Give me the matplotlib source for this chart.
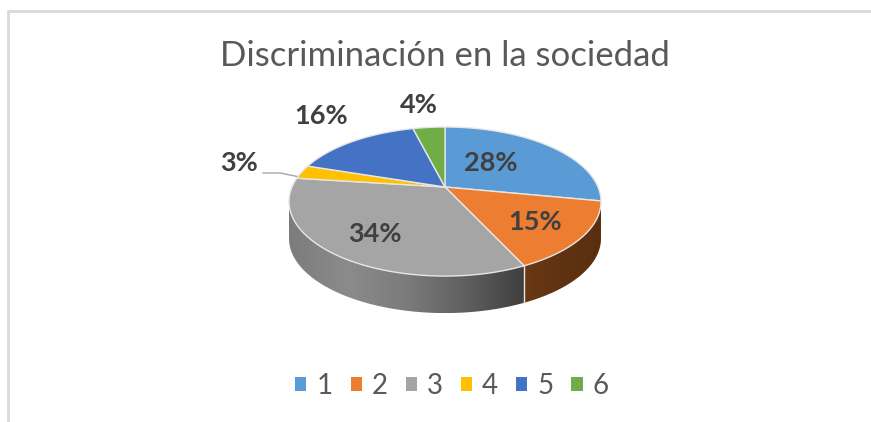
import numpy as np
import matplotlib
matplotlib.use('Agg')
import matplotlib.pyplot as plt
from matplotlib.colors import LinearSegmentedColormap
from matplotlib.patches import Patch, Polygon

plt.rcParams['font.family'] = ['Lato', 'DejaVu Sans']

# data
categories = ['1', '2', '3', '4', '5', '6']
values = [28, 15, 34, 3, 16, 4]
colors = ['#5b9bd5', '#ed7d31', '#a5a5a5', '#ffc000', '#4472c4', '#70ad47']
title = 'Discriminación en la sociedad'

# pie geometry in pixels (perspective view of a circle)
cx, cy = 445, 187
gx, gy, persp = 153, 71.7, 0.195
depth = 37
vis_from, vis_to = 101, 259  # part of the rim that shows the wall


def rim(t0, t1, dy=0):
    t = np.radians(np.linspace(t0, t1, 120))
    u, v = np.sin(t), np.cos(t)
    d = 1 + persp * v
    return np.column_stack([cx + gx * u / d, cy - gy * v / d + dy])


fig = plt.figure(figsize=(8.71, 4.22), dpi=100)
ax = fig.add_axes([0, 0, 1, 1])
ax.set_xlim(0, 871)
ax.set_ylim(422, 0)
ax.axis('off')

# frame of the chart, only top and left are in the crop
ax.plot([7.5, 7.5, 871], [422, 10.5, 10.5], color='#d9d9d9', lw=2, solid_joinstyle='miter')

ends = np.cumsum(values) / sum(values) * 360
starts = np.r_[0, ends[:-1]]

# side wall
wall_maps = {
    1: LinearSegmentedColormap.from_list('w2', ['#6a3814', '#5f3211', '#5a2f10']),
    2: LinearSegmentedColormap.from_list('w3', ['#7c7c7c', '#8b8b8b', '#7b7b7b', '#5f5f5f', '#3f3f3f']),
}
for i, cmap in wall_maps.items():
    a = max(starts[i], vis_from)
    b = min(ends[i], vis_to)
    pts = np.vstack([rim(a, b), rim(a, b, depth)[::-1]])
    poly = Polygon(pts, closed=True, fc='none', ec='none')
    ax.add_patch(poly)
    grad = np.linspace(0, 1, 256).reshape(1, -1)
    im = ax.imshow(grad, cmap=cmap, aspect='auto', zorder=1,
                   extent=[pts[:, 0].min(), pts[:, 0].max(), pts[:, 1].max(), pts[:, 1].min()])
    im.set_clip_path(poly)
ax.set_xlim(0, 871)
ax.set_ylim(422, 0)

# line between the two wall parts
sep = rim(ends[1], ends[1])[0]
ax.plot([sep[0], sep[0]], [sep[1], sep[1] + depth], color='#e8e8e8', lw=1, zorder=2)

# top of the pie
for s, e, c in zip(starts, ends, colors):
    pts = np.vstack([[cx, cy], rim(s, e)])
    ax.add_patch(Polygon(pts, closed=True, fc=c, ec='#e6e6e6', lw=1, zorder=3))

# data labels
label_pos = [(491, 163), (535, 222), (375, 234), (239, 163), (321, 116), (419, 105)]
for v, (x, y) in zip(values, label_pos):
    ax.text(x, y, f'{v}%', ha='center', va='center', fontsize=19.5, fontweight='bold',
            color='#404040', zorder=5)
ax.plot([263, 280, 300], [173, 173, 177], color='#a6a6a6', lw=1, zorder=2)

ax.text(445, 56, title, ha='center', va='center', fontsize=25, color='#595959')

handles = [Patch(fc=c, ec='none', label=n) for n, c in zip(categories, colors)]
fig.legend(handles=handles, loc='center', bbox_to_anchor=(452 / 871, 1 - 386 / 422), ncol=6,
           frameon=False, fontsize=20, labelcolor='#595959', handlelength=0.4, handleheight=0.4,
           handletextpad=0.36, columnspacing=0.65, borderpad=0)

fig.savefig('out.png', dpi=100)
